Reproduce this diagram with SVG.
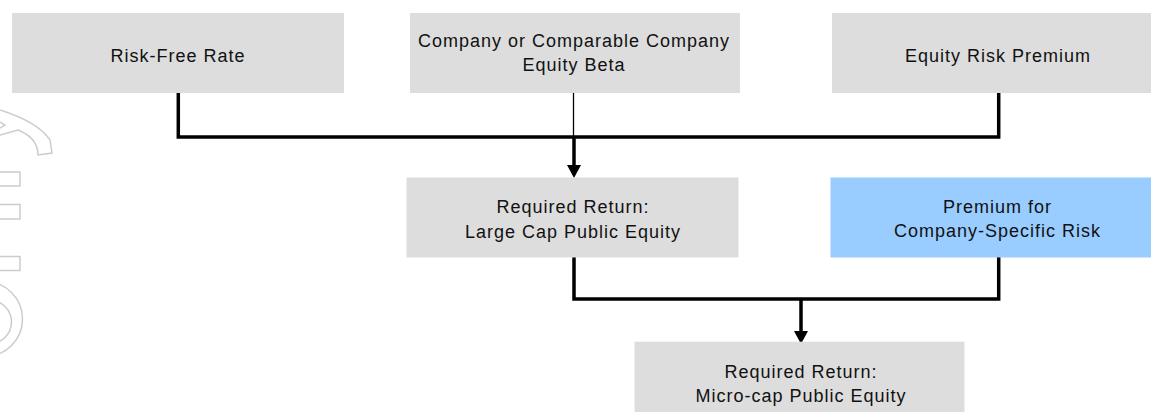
<svg xmlns="http://www.w3.org/2000/svg" width="1151" height="412" viewBox="0 0 1151 412">
  <style>
    .box { fill: #dddddd; }
    .blue { fill: #99ccff; }
    .lbl { font-family: "Liberation Sans", Arial, sans-serif; font-size: 18px; letter-spacing: 1px; fill: #111111; text-anchor: middle; }
    .conn { fill: none; stroke: #000000; stroke-width: 3.5; stroke-linejoin: miter; stroke-linecap: square; }
    .thin { fill: none; stroke: #000000; stroke-width: 1.3; }
    .wm { fill: none; stroke: #cccccc; stroke-width: 1.5; }
  </style>
  <defs>
    <marker id="arrow" viewBox="0 0 13 14" refX="5" refY="7" markerWidth="13" markerHeight="14" markerUnits="userSpaceOnUse" orient="auto">
      <path d="M0,0 L13,7 L0,14 Z" fill="#000000"/>
    </marker>
  </defs>
  <rect width="1151" height="412" fill="#ffffff"/>

  <g id="watermark">
    <path class="wm" d="M0,110 Q38,122 50,140 L52,153 L38,155 Q38,138 18,130 L0,135"/>
    <path class="wm" d="M0,122 L5,125 L0,128"/>
    <rect class="wm" x="-2" y="172" width="22" height="14"/>
    <rect class="wm" x="-2" y="204.5" width="22" height="14.5"/>
    <rect class="wm" x="-2" y="256.5" width="22" height="14"/>
    <circle class="wm" cx="-15" cy="319" r="37.5"/>
    <circle class="wm" cx="-10" cy="322" r="21.5"/>
  </g>

  <g id="connectors">
    <path class="conn" d="M178.3,93 V137 H998.7 V93"/>
    <line class="thin" x1="573.5" y1="93" x2="573.5" y2="137"/>
    <line class="conn" x1="574" y1="137" x2="574" y2="170" style="stroke-linecap:butt" marker-end="url(#arrow)"/>
    <path class="conn" d="M574,257 V299 H998.7 V257"/>
    <line class="conn" x1="801" y1="299" x2="801" y2="336" style="stroke-linecap:butt" marker-end="url(#arrow)"/>
  </g>

  <g id="node-risk-free-rate">
    <rect class="box" x="12" y="13" width="332" height="80"/>
    <text class="lbl" x="178" y="61.7">Risk-Free Rate</text>
  </g>

  <g id="node-equity-beta">
    <rect class="box" x="410" y="13" width="330" height="80"/>
    <text class="lbl" x="574" y="46.7">Company or Comparable Company</text>
    <text class="lbl" x="574" y="71">Equity Beta</text>
  </g>

  <g id="node-equity-risk-premium">
    <rect class="box" x="832" y="13" width="334" height="80"/>
    <text class="lbl" x="998" y="61.7">Equity Risk Premium</text>
  </g>

  <g id="node-large-cap">
    <rect class="box" x="406.5" y="177.5" width="332" height="80"/>
    <text class="lbl" x="573" y="213.3">Required Return:</text>
    <text class="lbl" x="573" y="238.3">Large Cap Public Equity</text>
  </g>

  <g id="node-company-specific">
    <rect class="blue" x="830.5" y="177.5" width="336" height="80"/>
    <text class="lbl" x="997.5" y="213.3">Premium for</text>
    <text class="lbl" x="997.5" y="236.5">Company-Specific Risk</text>
  </g>

  <g id="node-micro-cap">
    <rect class="box" x="634.5" y="341.7" width="330" height="80"/>
    <text class="lbl" x="801" y="378.3">Required Return:</text>
    <text class="lbl" x="801" y="401.7">Micro-cap Public Equity</text>
  </g>
</svg>
